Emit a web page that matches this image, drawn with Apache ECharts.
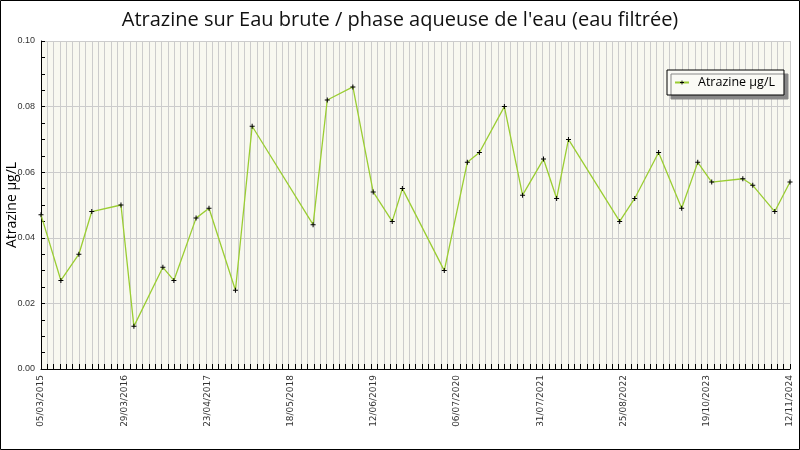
<!DOCTYPE html>
<html>
<head>
<meta charset="utf-8">
<script src="https://cdn.jsdelivr.net/npm/echarts@6/dist/echarts.min.js"></script>
<style>
  html, body { margin: 0; padding: 0; background: #fff; }
  #chart { width: 800px; height: 450px; }
</style>
</head>
<body>
<div id="chart"></div>
<script>
// sampling dates (dd/mm/yyyy) and atrazine values in µg/L
const dates = [
  '05/03/2015', '07/06/2015', '31/08/2015', '31/10/2015', '17/03/2016', '17/05/2016',
  '01/10/2016', '22/11/2016', '07/03/2017', '07/05/2017', '09/09/2017', '27/11/2017',
  '11/09/2018', '17/11/2018', '18/03/2019', '22/06/2019', '20/09/2019', '07/11/2019',
  '23/05/2020', '09/09/2020', '05/11/2020', '03/03/2021', '28/05/2021', '04/09/2021',
  '05/11/2021', '31/12/2021', '30/08/2022', '09/11/2022', '02/03/2023', '19/06/2023',
  '03/09/2023', '08/11/2023', '03/04/2024', '20/05/2024', '01/09/2024', '12/11/2024'
];
const atrazine = [
  0.047, 0.027, 0.035, 0.048, 0.050, 0.013,
  0.031, 0.027, 0.046, 0.049, 0.024, 0.074,
  0.044, 0.082, 0.086, 0.054, 0.045, 0.055,
  0.030, 0.063, 0.066, 0.080, 0.053, 0.064,
  0.052, 0.070, 0.045, 0.052, 0.066, 0.049,
  0.063, 0.057, 0.058, 0.056, 0.048, 0.057
];
const tickLabels = [
  '05/03/2015', '29/03/2016', '23/04/2017', '18/05/2018', '12/06/2019',
  '06/07/2020', '31/07/2021', '25/08/2022', '19/10/2023', '12/11/2024'
];

const DAY = 86400000;
function toTime(s) {
  const p = s.split('/');
  return Date.UTC(+p[2], +p[1] - 1, +p[0]);
}
const t0 = toTime(tickLabels[0]);
const dayOf = (s) => Math.round((toTime(s) - t0) / DAY);
const xMax = dayOf(tickLabels[tickLabels.length - 1]);
const labelStep = xMax / (tickLabels.length - 1);

const points = dates.map((d, i) => [dayOf(d), atrazine[i]]);

const FONT = 'DejaVu Sans';
const PLUS = 'path://M2,0H3V2H5V3H3V5H2V3H0V2H2Z';
const chart = echarts.init(document.getElementById('chart'), null, { renderer: 'canvas' });

chart.setOption({
  animation: false,
  backgroundColor: '#fff',
  title: {
    text: "Atrazine sur Eau brute / phase aqueuse de l'eau (eau filtrée)",
    left: 'center',
    top: 5,
    textStyle: { fontFamily: 'Open Sans', fontSize: 20, fontWeight: 'normal', color: '#111' }
  },
  legend: {
    left: 667,
    top: 70,
    padding: [6, 9, 6, 7],
    itemWidth: 14,
    itemHeight: 5,
    itemGap: 6,
    backgroundColor: '#FAFAF5',
    borderColor: '#000',
    borderWidth: 1,
    borderRadius: 0,
    shadowColor: '#888',
    shadowOffsetX: 4,
    shadowOffsetY: 4,
    shadowBlur: 0,
    textStyle: { fontFamily: 'Open Sans', fontSize: 12.5, color: '#000', padding: [0, 0, 0, 4] },
    data: ['Atrazine µg/L']
  },
  grid: {
    left: 41,
    right: 10,
    top: 41,
    bottom: 81,
    outerBoundsMode: 'none',
    containLabel: false,
    show: true,
    backgroundColor: '#F8F8F0',
    borderWidth: 0
  },
  xAxis: [
    {
      type: 'value',
      min: 0,
      max: xMax,
      interval: 30,
      axisLine: { show: true, onZero: false, lineStyle: { color: '#000', width: 1 } },
      axisTick: { show: true, inside: true, length: 5, lineStyle: { color: '#000' } },
      axisLabel: { show: false },
      splitLine: { show: true, lineStyle: { color: '#ccc', width: 1 } }
    },
    {
      type: 'value',
      position: 'bottom',
      min: 0,
      max: xMax,
      interval: labelStep,
      axisLine: { show: false },
      axisTick: { show: false },
      splitLine: { show: false },
      axisLabel: {
        rotate: 90,
        margin: 6,
        fontFamily: FONT,
        fontSize: 9,
        color: '#333',
        showMinLabel: true,
        showMaxLabel: true,
        hideOverlap: false,
        formatter: (v) => tickLabels[Math.round(v / labelStep)] || ''
      }
    }
  ],
  yAxis: {
    type: 'value',
    min: 0,
    max: 0.1,
    interval: 0.02,
    name: 'Atrazine µg/L',
    nameLocation: 'middle',
    nameGap: 22,
    nameMoveOverlap: false,
    nameTextStyle: { fontFamily: 'Open Sans', fontSize: 14, color: '#000' },
    axisLine: { show: true, lineStyle: { color: '#000', width: 1 } },
    axisTick: { show: true, inside: true, length: 4, lineStyle: { color: '#000' } },
    minorTick: { show: true, splitNumber: 4, length: 4, lineStyle: { color: '#000' } },
    axisLabel: {
      margin: 6,
      fontFamily: 'Liberation Sans',
      fontSize: 9,
      color: '#333',
      formatter: (v) => v.toFixed(2)
    },
    splitLine: { show: true, lineStyle: { color: '#ccc', width: 1 } }
  },
  graphic: [
    {
      type: 'rect',
      silent: true,
      z: 100,
      shape: { x: 0.5, y: 0.5, width: 799, height: 449 },
      style: { fill: null, stroke: '#000', lineWidth: 1 }
    }
  ],
  series: [
    {
      name: 'Atrazine µg/L',
      type: 'line',
      xAxisIndex: 0,
      data: points,
      symbol: PLUS,
      symbolSize: 5,
      itemStyle: { color: '#000' },
      lineStyle: { color: '#9ACD32', width: 1.3 },
      emphasis: { disabled: true }
    }
  ]
});
</script>
</body>
</html>
